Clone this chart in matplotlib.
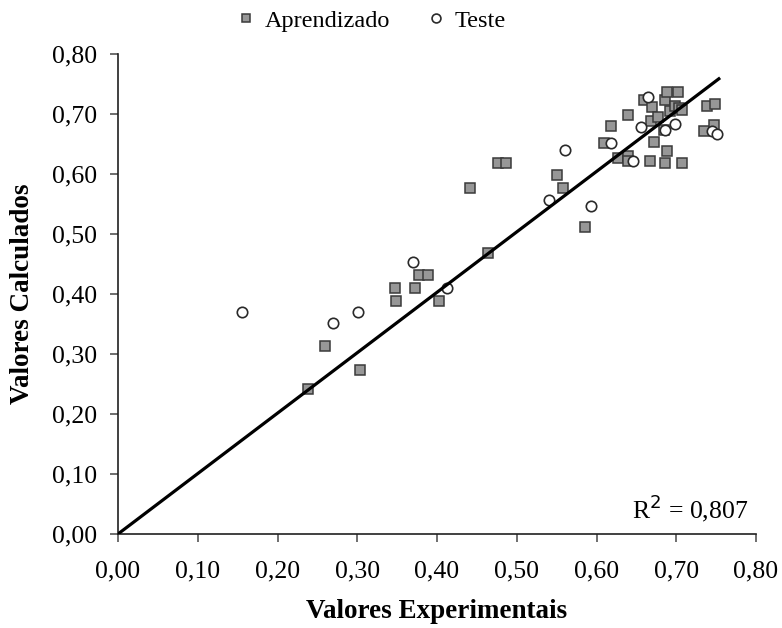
import matplotlib
matplotlib.use("Agg")
import matplotlib.pyplot as plt
from matplotlib.ticker import FuncFormatter, MultipleLocator

plt.rcParams['font.family'] = ['Liberation Serif', 'DejaVu Serif']

# Training set (Aprendizado): experimental vs calculated
aprend_x = [0.238, 0.259, 0.303, 0.347, 0.349, 0.373, 0.378, 0.389, 0.402,
            0.441, 0.464, 0.476, 0.486, 0.551, 0.558, 0.586, 0.609, 0.618,
            0.627, 0.640, 0.640, 0.639, 0.659, 0.667, 0.668, 0.669, 0.672,
            0.677, 0.685, 0.686, 0.686, 0.688, 0.688, 0.692, 0.698, 0.702,
            0.703, 0.707, 0.707, 0.735, 0.738, 0.747, 0.749]
aprend_y = [0.242, 0.313, 0.273, 0.410, 0.388, 0.410, 0.431, 0.431, 0.388,
            0.577, 0.468, 0.619, 0.619, 0.599, 0.577, 0.512, 0.652, 0.680,
            0.627, 0.630, 0.622, 0.699, 0.723, 0.621, 0.689, 0.711, 0.653,
            0.695, 0.673, 0.723, 0.618, 0.736, 0.639, 0.705, 0.713, 0.736,
            0.710, 0.707, 0.618, 0.671, 0.714, 0.682, 0.717]

# Test set (Teste)
teste_x = [0.156, 0.270, 0.3005, 0.370, 0.412, 0.541, 0.560, 0.593, 0.618,
           0.646, 0.656, 0.665, 0.686, 0.698, 0.745, 0.751]
teste_y = [0.370, 0.351, 0.370, 0.453, 0.410, 0.556, 0.640, 0.546, 0.652,
           0.621, 0.679, 0.728, 0.673, 0.684, 0.671, 0.667]

# Trend line through the origin
trend_slope = 1.007
trend_x = [0.0, 0.755]
r2_text = "R$^2$ = 0,807"

fig = plt.figure(figsize=(7.82, 6.28), dpi=100)
ax = fig.add_axes([118 / 782, 1 - 534 / 628, (756 - 118) / 782, (534 - 54) / 628])

ax.plot(trend_x, [trend_slope * v for v in trend_x], color='black', lw=2.3,
        solid_capstyle='butt', zorder=3)
ax.plot(aprend_x, aprend_y, ls='none', marker='s', ms=7.5, mfc='#979797',
        mec='#3a3a3a', mew=1.1, label='Aprendizado', zorder=2)
ax.plot(teste_x, teste_y, ls='none', marker='o', ms=7.5, mfc='white',
        mec='#2a2a2a', mew=1.2, label='Teste', zorder=2)

ax.set_xlim(0, 0.8)
ax.set_ylim(0, 0.8)
ax.xaxis.set_major_locator(MultipleLocator(0.1))
ax.yaxis.set_major_locator(MultipleLocator(0.1))
fmt = FuncFormatter(lambda v, p: f"{v:.2f}".replace('.', ','))
ax.xaxis.set_major_formatter(fmt)
ax.yaxis.set_major_formatter(fmt)

for s in ['top', 'right']:
    ax.spines[s].set_visible(False)
for s in ['left', 'bottom']:
    ax.spines[s].set_color('#202020')
    ax.spines[s].set_linewidth(1.2)
ax.tick_params(direction='out', length=6, width=1.2, color='#555555',
               labelsize=18.5)
ax.tick_params(axis='x', pad=13)
ax.tick_params(axis='y', pad=9)

ax.set_xlabel('Valores Experimentais', fontsize=19.5, fontweight='bold', labelpad=12)
ax.set_ylabel('Valores Calculados', fontsize=19.5, fontweight='bold', labelpad=12)

ax.text(0.79, 0.043, r2_text, ha='right', va='center', fontsize=18.5)

fig.legend(loc='center', bbox_to_anchor=(0.473, 0.967), ncol=2, frameon=False,
           fontsize=17.5, handletextpad=0.25, columnspacing=1.4, handlelength=1.0,
           borderaxespad=0, markerscale=0.85)

fig.savefig('out.png', dpi=100)
